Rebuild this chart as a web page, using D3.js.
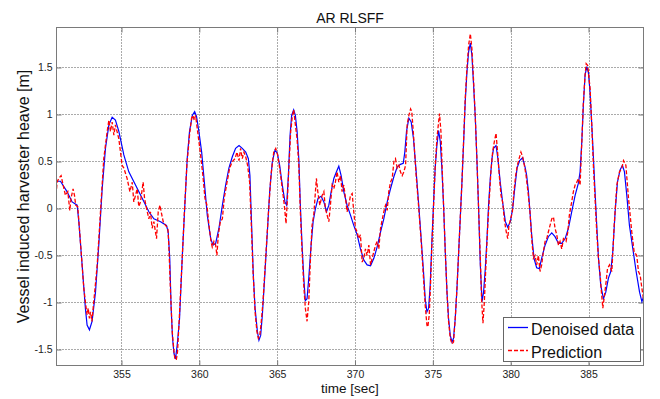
<!DOCTYPE html>
<html>
<head>
<meta charset="utf-8">
<script src="https://cdn.jsdelivr.net/npm/d3@7"></script>
<style>
  html, body { margin: 0; padding: 0; background: #fff; }
  svg { display: block; font-family: "Liberation Sans", Arial, Helvetica, sans-serif; }
</style>
</head>
<body>
<svg id="chart" width="660" height="399"></svg>
<script>
// ---- data ----
const titleText = "AR RLSFF";
const xLabelText = "time [sec]";
const yLabelText = "Vessel induced harvester heave [m]";
const seriesNames = ["Denoised data", "Prediction"];
const xTicks = [355, 360, 365, 370, 375, 380, 385];
const yTicks = [-1.5, -1, -0.5, 0, 0.5, 1, 1.5];
const xDomain = [350.825, 388.533];
const yDomain = [-1.670, 1.9255];

const denoisedT = [350.83,351.08,351.5,351.83,352.15,352.26,352.47,352.68,352.79,352.94,353.11,353.33,353.54,353.76,353.97,354.19,354.4,354.61,354.83,355.15,355.47,355.9,356.33,356.76,357.08,357.51,357.89,358.0,358.1,358.19,358.28,358.37,358.47,358.58,358.73,358.9,359.07,359.22,359.37,359.55,359.7,359.82,359.97,360.15,360.3,360.51,360.73,360.88,361.05,361.26,361.48,361.69,361.9,362.12,362.33,362.55,362.76,362.98,363.15,363.25,363.36,363.47,363.58,363.73,363.83,363.94,364.05,364.22,364.37,364.52,364.69,364.86,365.01,365.16,365.33,365.5,365.61,365.72,365.83,365.93,366.06,366.17,366.28,366.39,366.49,366.6,366.71,366.81,366.92,367.03,367.18,367.31,367.46,367.63,367.82,368.0,368.17,368.32,368.47,368.64,368.81,368.96,369.11,369.28,369.49,369.71,369.92,370.14,370.35,370.57,370.78,371.0,371.21,371.42,371.64,371.85,372.07,372.28,372.5,372.71,372.92,373.1,373.2,373.31,373.46,373.61,373.76,373.91,374.08,374.25,374.4,374.51,374.62,374.73,374.83,374.94,375.05,375.15,375.26,375.37,375.48,375.58,375.69,375.8,375.91,376.01,376.12,376.23,376.33,376.44,376.55,376.66,376.76,376.87,376.98,377.08,377.19,377.3,377.41,377.51,377.62,377.73,377.83,377.94,378.05,378.16,378.26,378.37,378.48,378.58,378.69,378.8,378.9,379.06,379.18,379.33,379.48,379.66,379.81,379.98,380.13,380.26,380.41,380.58,380.77,380.94,381.03,381.14,381.24,381.35,381.5,381.67,381.84,381.99,382.21,382.42,382.64,382.85,383.07,383.28,383.5,383.71,383.92,384.14,384.35,384.46,384.57,384.67,384.78,384.89,384.99,385.1,385.21,385.32,385.42,385.53,385.64,385.79,385.96,386.11,386.28,386.43,386.56,386.71,386.86,387.03,387.18,387.31,387.46,387.63,387.85,388.06,388.28,388.43,388.53];
const denoisedV = [0.29,0.29,0.18,0.07,0.035,-0.14,-0.6,-1.06,-1.24,-1.29,-1.2,-0.89,-0.39,0.21,0.64,0.89,0.97,0.94,0.82,0.57,0.39,0.25,0.11,-0.035,-0.11,-0.14,-0.18,-0.25,-0.53,-1.06,-1.38,-1.54,-1.6,-1.45,-1.17,-0.53,0.035,0.53,0.82,0.99,1.03,0.98,0.82,0.6,0.32,-0.07,-0.32,-0.39,-0.37,-0.21,0.035,0.25,0.43,0.55,0.64,0.67,0.64,0.6,0.53,0.35,-0.18,-0.71,-1.06,-1.31,-1.4,-1.35,-1.13,-0.67,-0.25,0.18,0.5,0.62,0.59,0.46,0.25,0.07,0.035,0.35,0.78,0.99,1.05,0.99,0.82,0.53,0.035,-0.39,-0.74,-0.98,-0.96,-0.74,-0.39,-0.14,0,0.11,0.13,0.07,-0.035,0.035,0.18,0.32,0.39,0.45,0.35,0.18,0.035,-0.07,-0.18,-0.28,-0.43,-0.55,-0.6,-0.61,-0.53,-0.41,-0.25,-0.11,0.07,0.21,0.34,0.44,0.47,0.48,0.6,0.82,0.96,0.92,0.74,0.43,0.07,-0.32,-0.67,-0.96,-1.1,-1.06,-0.82,-0.35,0.07,0.43,0.67,0.83,0.71,0.43,0.035,-0.46,-0.89,-1.17,-1.35,-1.42,-1.38,-1.17,-0.85,-0.46,-0.11,0.28,0.71,1.13,1.45,1.67,1.76,1.63,1.31,0.96,0.53,0,-0.6,-0.99,-0.89,-0.64,-0.32,0.035,0.32,0.53,0.64,0.67,0.53,0.28,0.07,-0.14,-0.2,-0.14,0,0.21,0.43,0.51,0.54,0.43,0.35,0.18,-0.035,-0.28,-0.53,-0.63,-0.64,-0.53,-0.39,-0.3,-0.26,-0.3,-0.37,-0.37,-0.32,-0.21,-0.035,0.14,0.27,0.39,0.71,1.1,1.42,1.51,1.45,1.24,0.89,0.53,0.18,-0.18,-0.53,-0.82,-0.96,-0.89,-0.74,-0.67,-0.46,-0.035,0.28,0.41,0.46,0.39,0.14,-0.18,-0.43,-0.67,-0.89,-0.99,-0.94];

const predictionT = [350.83,350.86,350.97,351.12,351.25,351.4,351.55,351.68,351.76,351.89,351.98,352.06,352.19,352.36,352.58,352.73,352.79,352.86,352.94,353.01,353.1,353.22,353.44,353.65,353.86,354.08,354.19,354.29,354.4,354.51,354.61,354.83,355.04,355.15,355.36,355.54,355.69,355.79,355.9,356.01,356.11,356.22,356.39,356.48,356.61,356.76,356.86,356.97,357.08,357.25,357.36,357.47,357.55,357.68,357.83,357.98,358.04,358.15,358.26,358.37,358.43,358.52,358.6,358.69,358.86,359.03,359.2,359.37,359.5,359.59,359.67,359.76,359.89,360.06,360.23,360.36,360.49,360.62,360.75,360.83,360.94,361.05,361.13,361.22,361.35,361.48,361.6,361.78,361.95,362.12,362.29,362.42,362.55,362.65,362.76,362.87,362.98,363.1,363.23,363.34,363.45,363.58,363.7,363.79,363.88,363.96,364.09,364.26,364.43,364.6,364.78,364.91,365.03,365.16,365.33,365.46,365.57,365.66,365.76,365.87,365.96,366.06,366.17,366.28,366.39,366.49,366.6,366.71,366.81,366.92,367.03,367.14,367.24,367.35,367.52,367.61,367.74,367.89,368.0,368.1,368.21,368.32,368.42,368.53,368.64,368.74,368.85,368.96,369.07,369.17,369.28,369.39,369.49,369.6,369.71,369.82,369.92,370.03,370.14,370.24,370.35,370.46,370.57,370.67,370.78,370.89,371.0,371.1,371.21,371.32,371.42,371.53,371.64,371.85,371.96,372.07,372.17,372.28,372.39,372.5,372.6,372.71,372.82,372.92,373.03,373.14,373.25,373.35,373.46,373.57,373.65,373.76,373.91,374.08,374.25,374.4,374.51,374.62,374.68,374.77,374.85,374.94,375.05,375.15,375.26,375.37,375.43,375.52,375.6,375.69,375.8,375.91,376.01,376.12,376.23,376.33,376.44,376.55,376.66,376.76,376.87,376.98,377.08,377.19,377.3,377.41,377.51,377.62,377.73,377.83,377.94,378.05,378.13,378.22,378.31,378.41,378.52,378.63,378.73,378.84,378.95,379.06,379.16,379.27,379.38,379.48,379.61,379.72,379.81,379.89,380.0,380.11,380.21,380.32,380.43,380.54,380.66,380.77,380.88,380.99,381.11,381.24,381.35,381.46,381.57,381.67,381.78,381.89,381.99,382.1,382.21,382.32,382.42,382.53,382.64,382.75,382.85,382.96,383.07,383.17,383.28,383.39,383.56,383.67,383.77,383.92,384.03,384.14,384.25,384.35,384.46,384.57,384.67,384.78,384.85,384.95,385.1,385.21,385.32,385.42,385.53,385.64,385.75,385.83,385.92,386.0,386.13,386.22,386.35,386.5,386.65,386.82,386.99,387.14,387.25,387.4,387.57,387.78,387.93,388.1,388.21,388.32,388.43,388.53];
const predictionV = [0.21,0.28,0.32,0.35,0.25,0.14,0.18,-0.02,0.11,0.21,0.14,0.035,0.02,-0.35,-0.85,-1.06,-1.13,-1.06,-1.17,-1.1,-1.2,-0.99,-0.6,-0.035,0.53,0.82,0.94,0.82,0.92,0.78,0.89,0.74,0.46,0.43,0.32,0.18,0.28,0.07,0.14,0.21,0.02,0.07,0.28,0.11,0,-0.11,-0.035,-0.21,-0.14,-0.32,-0.035,0.035,-0.035,-0.14,-0.18,-0.21,-0.39,-0.89,-1.31,-1.52,-1.6,-1.61,-1.52,-1.24,-0.67,-0.07,0.46,0.78,0.96,0.99,0.94,0.99,0.82,0.6,0.35,0.11,0.035,-0.18,-0.35,-0.41,-0.35,-0.39,-0.5,-0.28,-0.14,-0.11,0.11,0.28,0.43,0.5,0.53,0.6,0.51,0.64,0.53,0.6,0.55,0.46,0.28,-0.18,-0.67,-1.1,-1.31,-1.38,-1.35,-1.24,-0.99,-0.53,-0.07,0.35,0.6,0.64,0.57,0.43,0.21,0.035,-0.16,0.11,0.46,0.82,0.96,1.05,0.89,0.74,0.46,-0.035,-0.46,-0.82,-1.06,-1.2,-0.99,-0.53,-0.18,-0.07,0.32,0.18,0.035,0.14,0.18,0,-0.07,-0.14,0.035,0.25,0.21,0.28,0.39,0.28,0.35,0.18,0.25,0.11,-0.035,0.035,0.14,0.16,-0.035,-0.21,-0.25,-0.32,-0.28,-0.57,-0.53,-0.43,-0.5,-0.39,-0.6,-0.53,-0.46,-0.39,-0.35,-0.43,-0.21,-0.035,0.035,-0.02,0.18,0.28,0.32,0.5,0.53,0.43,0.46,0.39,0.35,0.39,0.46,0.89,0.99,1.06,1.03,0.78,0.39,0.035,-0.35,-0.74,-1.03,-1.24,-1.26,-1.13,-0.82,-0.39,0.035,0.43,0.74,0.92,1.01,0.82,0.43,0.035,-0.46,-0.89,-1.2,-1.38,-1.44,-1.42,-1.17,-0.85,-0.46,-0.11,0.28,0.74,1.17,1.49,1.74,1.86,1.7,1.35,0.96,0.53,0,-0.53,-0.96,-1.22,-0.99,-0.6,-0.21,0.11,0.39,0.6,0.71,0.8,0.6,0.35,0.14,0.07,-0.14,-0.25,-0.32,-0.18,-0.11,-0.035,0.18,0.35,0.46,0.53,0.6,0.55,0.46,0.35,0.18,-0.035,-0.32,-0.53,-0.5,-0.6,-0.5,-0.67,-0.6,-0.46,-0.35,-0.32,-0.25,-0.18,-0.11,-0.09,-0.21,-0.28,-0.39,-0.35,-0.43,-0.32,-0.35,-0.25,-0.07,0.07,0.18,0.25,0.28,0.32,0.25,0.71,1.13,1.42,1.54,1.52,1.28,0.89,0.43,0.11,-0.25,-0.53,-0.71,-0.89,-1.06,-0.96,-0.78,-0.64,-0.6,-0.67,-0.18,0.25,0.39,0.43,0.51,0.46,0.11,-0.25,-0.46,-0.5,-0.67,-0.71,-0.85,-0.96];

// ---- layout ----
const svg = d3.select("#chart");
const L = 56.5, R = 643.5, T = 27.5, B = 365.5;
const x = d3.scaleLinear().domain(xDomain).range([L, R]);
const y = d3.scaleLinear().domain(yDomain).range([B, T]);

svg.append("rect").attr("width", 660).attr("height", 399).attr("fill", "#fff");

svg.append("defs").append("clipPath").attr("id", "clip")
  .append("rect").attr("x", L).attr("y", T).attr("width", R - L).attr("height", B - T);

// grid
const grid = svg.append("g");
grid.selectAll(".gx").data(xTicks).join("line")
  .attr("x1", d => Math.round(x(d)) + 0.5).attr("x2", d => Math.round(x(d)) + 0.5)
  .attr("y1", T).attr("y2", B)
  .attr("stroke", "#555").attr("stroke-width", 1).attr("stroke-dasharray", "1,2");
grid.selectAll(".gy").data(yTicks).join("line")
  .attr("y1", d => Math.round(y(d) - 0.5) + 0.5).attr("y2", d => Math.round(y(d) - 0.5) + 0.5)
  .attr("x1", L).attr("x2", R)
  .attr("stroke", "#555").attr("stroke-width", 1).attr("stroke-dasharray", "1,2");

// axes (ticks inside, on all sides)
const axisColor = "#7a7a7a";
const axB = d3.axisBottom(x).tickValues(xTicks).tickSizeInner(-5).tickSizeOuter(0).tickPadding(5.5).tickFormat(d => String(d));
const axT = d3.axisTop(x).tickValues(xTicks).tickSizeInner(-5).tickSizeOuter(0).tickFormat("");
const axL = d3.axisLeft(y).tickValues(yTicks).tickSizeInner(-5).tickSizeOuter(0).tickPadding(4).tickFormat(d => String(d));
const axR = d3.axisRight(y).tickValues(yTicks).tickSizeInner(-5).tickSizeOuter(0).tickFormat("");

function styleAxis(g) {
  g.select(".domain").remove();
  g.selectAll(".tick line").attr("stroke", axisColor);
  g.selectAll(".tick text").attr("fill", "#222").style("font-size", "10.5px")
    .style("font-family", "'Liberation Sans', Arial, sans-serif");
}
svg.append("g").attr("transform", `translate(0,${B})`).call(axB).call(styleAxis);
svg.append("g").attr("transform", `translate(0,${T})`).call(axT).call(styleAxis);
svg.append("g").attr("transform", `translate(${L},0)`).call(axL).call(styleAxis);
svg.append("g").attr("transform", `translate(${R},0)`).call(axR).call(styleAxis);

// lines
const denoised = denoisedT.map((t, i) => [t, denoisedV[i]]);
const prediction = predictionT.map((t, i) => [t, predictionV[i]]);
const line = d3.line().x(d => x(d[0])).y(d => y(d[1]));
const plot = svg.append("g").attr("clip-path", "url(#clip)");
plot.append("path").datum(denoised).attr("d", line)
  .attr("fill", "none").attr("stroke", "#0000ff").attr("stroke-width", 1.2);
plot.append("path").datum(prediction).attr("d", line)
  .attr("fill", "none").attr("stroke", "#ff0000").attr("stroke-width", 1.3)
  .attr("stroke-dasharray", "4,2");

// box
svg.append("rect").attr("x", L).attr("y", T).attr("width", R - L).attr("height", B - T)
  .attr("fill", "none").attr("stroke", axisColor).attr("stroke-width", 1);

// title and labels
svg.append("text").attr("x", (L + R) / 2).attr("y", 23).attr("text-anchor", "middle")
  .style("font-size", "14px").attr("fill", "#111").text(titleText);
svg.append("text").attr("x", (L + R) / 2).attr("y", 393).attr("text-anchor", "middle")
  .style("font-size", "13.5px").attr("fill", "#111").text(xLabelText);
svg.append("text").attr("transform", `translate(29,${(T + B) / 2}) rotate(-90)`).attr("text-anchor", "middle")
  .style("font-size", "16px").attr("fill", "#111").text(yLabelText);

// legend
const lg = svg.append("g");
lg.append("rect").attr("x", 503.5).attr("y", 317.5).attr("width", 137).attr("height", 44)
  .attr("fill", "#fff").attr("stroke", "#666").attr("stroke-width", 1);
const legendRows = [
  { name: seriesNames[0], color: "#0000ff", dash: null, yy: 327.5 },
  { name: seriesNames[1], color: "#ff0000", dash: "4,2", yy: 350.5 }
];
legendRows.forEach(r => {
  lg.append("line").attr("x1", 508).attr("x2", 528).attr("y1", r.yy).attr("y2", r.yy)
    .attr("stroke", r.color).attr("stroke-width", 1.3).attr("stroke-dasharray", r.dash);
  lg.append("text").attr("x", 531).attr("y", r.yy + 7).style("font-size", "16px")
    .attr("fill", "#111").text(r.name);
});
</script>
</body>
</html>
